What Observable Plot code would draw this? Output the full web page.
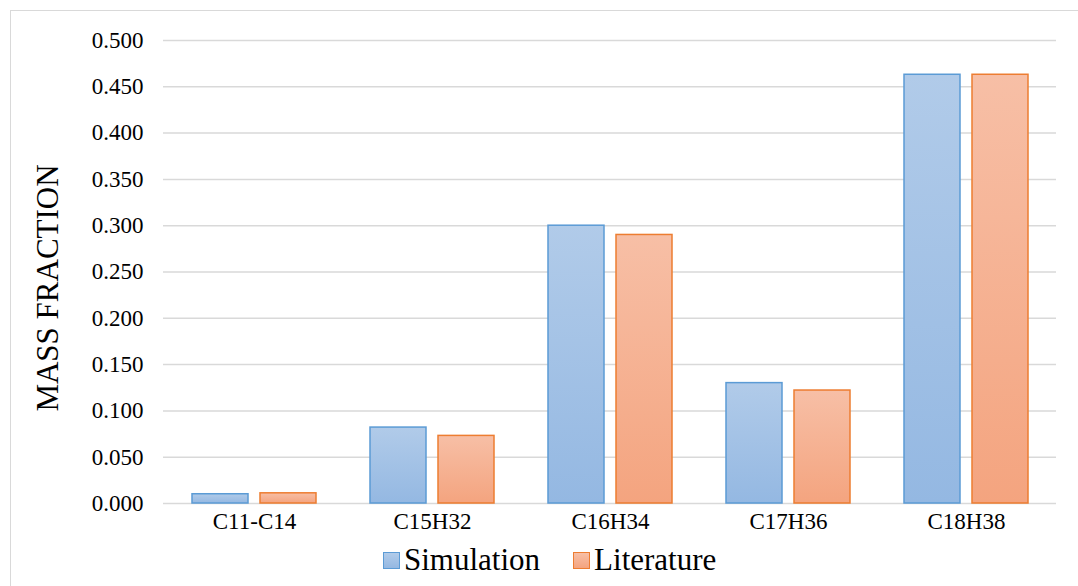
<!DOCTYPE html>
<html>
<head>
<meta charset="utf-8">
<script src="https://cdn.jsdelivr.net/npm/d3@7"></script>
<script src="https://cdn.jsdelivr.net/npm/@observablehq/plot@0.6"></script>
<style>
  html, body { margin: 0; padding: 0; background: #fff; width: 1078px; height: 586px; overflow: hidden; }
  #frame { position: absolute; left: 10px; top: 10px; width: 1100px; height: 600px; border: 1.5px solid #d9d9d9; box-sizing: border-box; }
  #chart { position: absolute; left: 0; top: 0; }
  #legend { position: absolute; left: 383px; top: 542px; display: flex; align-items: center; font-family: "Liberation Serif", "Noto Serif", "Noto Serif CJK SC", "Noto Serif CJK JP", "FreeSerif", "Source Serif Pro", Georgia, "DejaVu Serif", serif; font-size: 31px; color: #000; line-height: 36px; }
  .sw { width: 15px; height: 15px; border: 1.5px solid; margin-right: 4px; }
  .item { display: flex; align-items: center; margin-right: 33px; }
  svg text { font-family: "Liberation Serif", "Noto Serif", "Noto Serif CJK SC", "Noto Serif CJK JP", "FreeSerif", "Source Serif Pro", Georgia, "DejaVu Serif", serif !important; }
</style>
</head>
<body>
<div id="frame"></div>
<div id="chart"></div>
<div id="legend"></div>
<script>
const categories = ["C11-C14", "C15H32", "C16H34", "C17H36", "C18H38"];
const simulation = [0.010, 0.082, 0.300, 0.130, 0.463];
const literature = [0.011, 0.073, 0.290, 0.122, 0.463];
const seriesNames = ["Simulation", "Literature"];
const yTicks = [0, 0.05, 0.1, 0.15, 0.2, 0.25, 0.3, 0.35, 0.4, 0.45, 0.5];

const rows = categories.map((c, i) => ({cat: c, sim: simulation[i], lit: literature[i]}));

const font = "'Liberation Serif', 'Noto Serif', 'DejaVu Serif', serif";

const plot = Plot.plot({
  width: 1078,
  height: 538,
  marginLeft: 163,
  marginRight: 22,
  marginTop: 40,
  marginBottom: 35,
  style: {fontFamily: font, fontSize: "23px", color: "#000", background: "transparent", overflow: "visible"},
  x: {domain: categories, paddingInner: 0.306, paddingOuter: 0.153},
  y: {domain: [0, 0.5]},
  marks: [
    Plot.ruleY(yTicks, {stroke: "#d9d9d9", strokeWidth: 1.5}),
    Plot.barY(rows, {x: "cat", y: "sim", insetRight: 68, fill: "url(#gradBlue)", stroke: "#5b9bd5", strokeWidth: 1.5}),
    Plot.barY(rows, {x: "cat", y: "lit", insetLeft: 68, fill: "url(#gradOrange)", stroke: "#ed7d31", strokeWidth: 1.5}),
    Plot.axisY({ticks: yTicks, tickFormat: d3.format(".3f"), tickSize: 0, tickPadding: 20, label: null, fontSize: 23, fill: "#000"}),
    Plot.axisY({ticks: [], label: "MASS FRACTION", labelAnchor: "center", labelArrow: "none", labelOffset: 128, fontSize: 31, fill: "#000"}),
    Plot.axisX({tickSize: 0, tickPadding: 9, label: null, fontSize: 23, fill: "#000"})
  ]
});

const svg = d3.select(plot);
const defs = svg.insert("defs", ":first-child");
function grad(id, top, bottom) {
  const g = defs.append("linearGradient").attr("id", id).attr("x1", 0).attr("y1", 0).attr("x2", 0).attr("y2", 1);
  g.append("stop").attr("offset", "0%").attr("stop-color", top);
  g.append("stop").attr("offset", "100%").attr("stop-color", bottom);
}
grad("gradBlue", "#b1cbe9", "#94b8e2");
grad("gradOrange", "#f7bfa6", "#f4a47f");

// shift the rotated axis title slightly down, as in the reference
svg.selectAll("text").filter(function () { return this.textContent === "MASS FRACTION"; })
  .each(function () {
    const t = d3.select(this);
    const tr = t.attr("transform") || "";
    t.attr("transform", "translate(0,16) " + tr);
  });

document.getElementById("chart").appendChild(plot);

const legend = document.getElementById("legend");
const swatches = [
  {name: seriesNames[0], bg: "linear-gradient(#b1cbe9, #94b8e2)", border: "#5b9bd5"},
  {name: seriesNames[1], bg: "linear-gradient(#f7bfa6, #f4a47f)", border: "#ed7d31"}
];
swatches.forEach(s => {
  const item = document.createElement("div");
  item.className = "item";
  const sw = document.createElement("div");
  sw.className = "sw";
  sw.style.background = s.bg;
  sw.style.borderColor = s.border;
  const t = document.createElement("span");
  t.textContent = s.name;
  item.appendChild(sw);
  item.appendChild(t);
  legend.appendChild(item);
});
</script>
</body>
</html>
